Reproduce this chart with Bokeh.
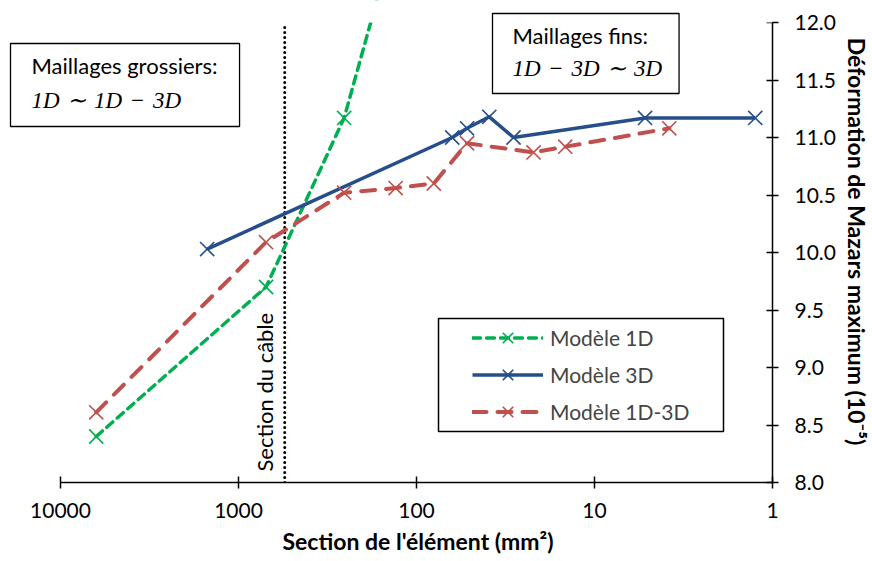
import math
from bokeh.plotting import figure
from bokeh.models import (Range1d, FixedTicker, NumeralTickFormatter, Label,
                          Legend, LegendItem, BoxAnnotation, Title)
from bokeh.embed import file_html
from bokeh.resources import INLINE

# ---- data ----
section_1d = [6300, 700, 255, 150]
mazars_1d = [8.40, 9.70, 11.17, 12.45]

section_3d = [1500, 63, 52, 39, 28.5, 5.2, 1.25]
mazars_3d = [10.03, 11.00, 11.08, 11.18, 11.00, 11.17, 11.17]

section_1d3d = [6300, 700, 255, 131, 80, 52, 22, 14.6, 3.8]
mazars_1d3d = [8.61, 10.09, 10.52, 10.56, 10.60, 10.95, 10.87, 10.92, 11.08]

cable_section = 550
x_ticks = [10000, 1000, 100, 10, 1]
x_tick_labels = ["10000", "1000", "100", "10", "1"]
y_ticks = [8.0, 8.5, 9.0, 9.5, 10.0, 10.5, 11.0, 11.5, 12.0]

labels = ["Modèle 1D", "Modèle 3D", "Modèle 1D-3D"]
colors = ["#00B050", "#254E8A", "#C0504D"]

FONT = "Lato"

# frame spans the whole upper-left area so that the text boxes are not clipped;
# the axes themselves are limited with bounds
PX_DECADE = 178.0
LEFT_PAD = 60      # px between frame left and the 10000 tick
PX_UNIT = 115.0
TOP_PAD = 22       # px between frame top and the 12.0 tick
x_lo, x_hi = min(x_ticks), max(x_ticks)
y_lo, y_hi = min(y_ticks), max(y_ticks)
x_start = x_hi * 10 ** (LEFT_PAD / PX_DECADE)
y_end = y_hi + TOP_PAD / PX_UNIT

p = figure(width=872, height=561, frame_width=772, frame_height=482,
           x_axis_type="log", x_range=Range1d(x_start, x_lo), y_range=Range1d(y_lo, y_end),
           y_axis_location="right", output_backend="svg", toolbar_location=None,
           min_border_left=0, min_border_top=0, min_border_right=100, min_border_bottom=79)
p.outline_line_color = None
p.grid.visible = False
p.background_fill_color = "white"
p.title.visible = False

for ax in (p.xaxis[0], p.yaxis[0]):
    ax.axis_line_color = "black"
    ax.axis_line_width = 1.5
    ax.major_tick_line_color = "black"
    ax.major_tick_line_width = 1.5
    ax.major_tick_in = 6
    ax.major_tick_out = 6
    ax.minor_tick_line_color = None
    ax.major_label_text_font = FONT
    ax.major_label_text_font_size = "21px"
    ax.major_label_text_color = "black"
    ax.axis_label_text_font = FONT
    ax.axis_label_text_font_style = "bold"
    ax.axis_label_text_font_size = "23px"
    ax.axis_label_text_color = "black"

p.xaxis.bounds = (x_lo, x_hi)
p.xaxis.ticker = FixedTicker(ticks=x_ticks)
p.xaxis.major_label_overrides = {t: l for t, l in zip(x_ticks, x_tick_labels)}
p.xaxis.major_label_standoff = 14

p.yaxis.bounds = (y_lo, y_hi)
p.yaxis.ticker = FixedTicker(ticks=y_ticks)
p.yaxis.formatter = NumeralTickFormatter(format="0.0")
p.yaxis.major_label_standoff = 16
p.yaxis.axis_label = "Déformation de Mazars maximum (10⁻⁵)"
p.yaxis.axis_label_standoff = 4

# x-axis title, centred under the axis (not under the wider frame)
p.add_layout(Title(text="Section de l'élément (mm²)", align="left", offset=282,
                   standoff=9, text_font=FONT, text_font_style="bold",
                   text_font_size="23px", text_color="black"), "below")

# cable section (dotted line over the value axis range)
p.segment(x0=[cable_section], y0=[y_lo], x1=[cable_section], y1=[y_hi],
          line_color="black", line_width=3, line_dash="0 5", line_cap="round")
p.add_layout(Label(x=cable_section, y=y_lo, text="Section du câble", angle=math.pi / 2,
                   text_align="left", text_baseline="bottom", x_offset=-7, y_offset=11,
                   text_font=FONT, text_font_size="22px", text_color="black"))

# series
l1 = p.line(section_1d, mazars_1d, line_color=colors[0], line_width=3.5,
            line_dash="8 6", line_cap="round")
s1 = p.scatter(section_1d, mazars_1d, marker="x", size=20, line_color=colors[0], line_width=1.6)
l2 = p.line(section_3d, mazars_3d, line_color=colors[1], line_width=3.5)
s2 = p.scatter(section_3d, mazars_3d, marker="x", size=20, line_color=colors[1], line_width=1.6)
l3 = p.line(section_1d3d, mazars_1d3d, line_color=colors[2], line_width=4,
            line_dash="14 11", line_cap="round")
s3 = p.scatter(section_1d3d, mazars_1d3d, marker="x", size=20, line_color=colors[2], line_width=1.6)

# white mask above the top of the value axis (the chart is cut at 12.0)
p.add_layout(BoxAnnotation(bottom=y_hi, top=y_end + 1, fill_color="white", fill_alpha=1,
                           line_alpha=0))

legend = Legend(items=[LegendItem(label=labels[0], renderers=[l1, s1]),
                       LegendItem(label=labels[1], renderers=[l2, s2]),
                       LegendItem(label=labels[2], renderers=[l3, s3])],
                location=(468, 48), margin=0, padding=4, spacing=0,
                glyph_width=71, glyph_height=37, label_height=37,
                label_standoff=7, label_text_font=FONT, label_text_font_size="21px",
                border_line_alpha=0, background_fill_alpha=0)
p.add_layout(legend)
p.add_layout(BoxAnnotation(left=438, right=723, top=164, bottom=51,
                           left_units="screen", right_units="screen",
                           top_units="screen", bottom_units="screen",
                           fill_alpha=0, line_color="black", line_alpha=1, line_width=1.5))

# text boxes
SP = "\u2004"
p.add_layout(Label(x=10, y=439, x_units="screen", y_units="screen",
                   text="Maillages grossiers:", text_align="left", text_baseline="top",
                   text_font=FONT, text_font_size="22px", text_color="black",
                   border_line_color="black", border_line_width=1.3,
                   background_fill_color="white",
                   padding=dict(top=8, right=22, bottom=48, left=21)))
p.add_layout(Label(x=31, y=382, x_units="screen", y_units="screen",
                   text=f"1D{SP}∼{SP}1D{SP}−{SP}3D", text_align="left", text_baseline="middle",
                   text_font="Liberation Serif", text_font_style="italic",
                   text_font_size="23px", text_color="black"))

p.add_layout(Label(x=492, y=469, x_units="screen", y_units="screen",
                   text="Maillages fins:", text_align="left", text_baseline="top",
                   text_font=FONT, text_font_size="22px", text_color="black",
                   border_line_color="black", border_line_width=1.3,
                   background_fill_color="white",
                   padding=dict(top=8, right=31, bottom=45, left=20)))
p.add_layout(Label(x=512, y=414, x_units="screen", y_units="screen",
                   text=f"1D{SP}−{SP}3D{SP}∼{SP}3D", text_align="left", text_baseline="middle",
                   text_font="Liberation Serif", text_font_style="italic",
                   text_font_size="23px", text_color="black"))

open("out.html", "w").write(file_html(p, INLINE))
